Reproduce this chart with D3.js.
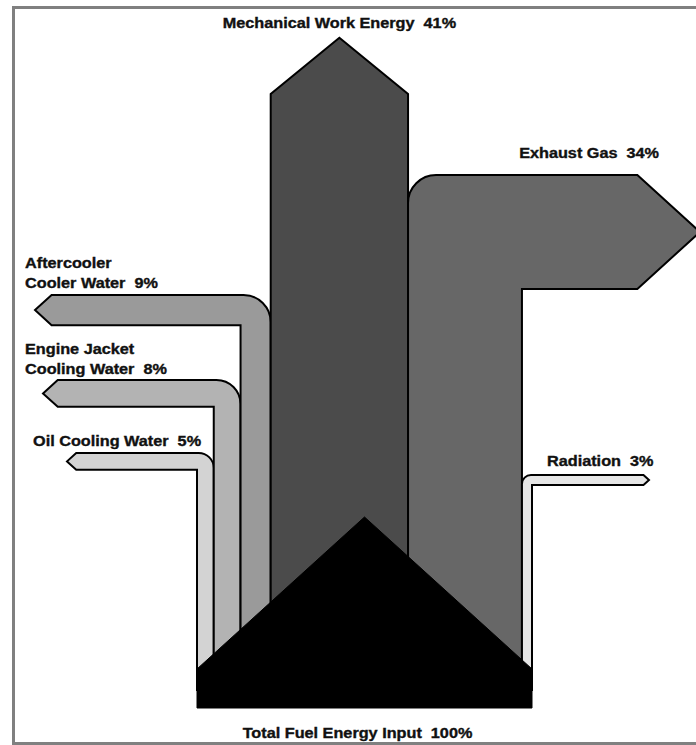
<!DOCTYPE html>
<html>
<head>
<meta charset="utf-8">
<script src="https://cdn.jsdelivr.net/npm/d3@7"></script>
<style>
  html, body { margin: 0; padding: 0; background: #fff; }
  svg { display: block; }
  text { font-family: "Liberation Sans", Arial, sans-serif; font-weight: bold; font-size: 14px; fill: #111; stroke: #111; stroke-width: 0.35; white-space: pre; }
</style>
</head>
<body>
<svg id="chart" width="696" height="745"></svg>
<script>
// ---- data ----
const categories = ["Oil Cooling Water", "Engine Jacket Cooling Water", "Aftercooler Cooler Water",
                    "Mechanical Work Energy", "Exhaust Gas", "Radiation"];
const values = [5, 8, 9, 41, 34, 3];
const labelLines = [["Oil Cooling Water"], ["Engine Jacket", "Cooling Water"], ["Aftercooler", "Cooler Water"],
                    ["Mechanical Work Energy"], ["Exhaust Gas"], ["Radiation"]];
const directions = ["left", "left", "left", "up", "right", "right"];
const totalLabel = "Total Fuel Energy Input";
const totalValue = 100;

// ---- presentation / layout ----
const colors = ["#d3d3d3", "#b3b3b3", "#9a9a9a", "#4b4b4b", "#676767", "#e6e6e6"];
const turnTop = [453, 380, 295, 94, 175, 475];     // top edge of the outgoing branch
const tipX = [67, 43, 35, null, 700, 649];         // x of arrow tip
const labelPos = [                                  // [x, baseline of last line, anchor]
  [33, 446, "start"], [25, 374, "start"], [25, 288, "start"],
  [null, 28, "middle"], [659, 158, "end"], [547, 466, "start"]
];
const lineGap = 20;
const stretch = 1.16;
const baseBottom = 708, baseShoulder = 669, apexY = 517, bandBottom = 690;

const svg = d3.select("#chart");

// frame
svg.append("rect")
  .attr("x", 13.5).attr("y", 7.5).attr("width", 700).attr("height", 736)
  .attr("fill", "#fff").attr("stroke", "#808080").attr("stroke-width", 3);

const x = d3.scaleLinear().domain([0, totalValue]).range([197, 532]);
const cum = [0, ...d3.cumsum(values)];

const flows = values.map((v, i) => ({
  name: categories[i], value: v, dir: directions[i],
  x0: x(cum[i]), x1: x(cum[i + 1]), w: x(v) - x(0),
  top: turnTop[i], tip: tipX[i], color: colors[i], lines: labelLines[i], lp: labelPos[i]
}));

function flowPath(f) {
  const p = d3.path();
  const w = f.w, h = w * 0.55, r = Math.min(w * 0.9, 28), yt = f.top;
  if (f.dir === "left") {
    p.moveTo(f.x0, bandBottom);
    p.lineTo(f.x0, yt + w);
    p.lineTo(f.tip + h, yt + w);
    p.lineTo(f.tip, yt + w / 2);
    p.lineTo(f.tip + h, yt);
    p.lineTo(f.x1 - r, yt);
    p.arcTo(f.x1, yt, f.x1, yt + r, r);
    p.lineTo(f.x1, bandBottom);
    p.closePath();
  } else if (f.dir === "right") {
    p.moveTo(f.x1, bandBottom);
    p.lineTo(f.x1, yt + w);
    p.lineTo(f.tip - h, yt + w);
    p.lineTo(f.tip, yt + w / 2);
    p.lineTo(f.tip - h, yt);
    p.lineTo(f.x0 + r, yt);
    p.arcTo(f.x0, yt, f.x0, yt + r, r);
    p.lineTo(f.x0, bandBottom);
    p.closePath();
  } else {
    const cx = (f.x0 + f.x1) / 2;
    p.moveTo(f.x0, bandBottom);
    p.lineTo(f.x0, yt);
    p.lineTo(cx, yt - (w / 2) * 0.82);
    p.lineTo(f.x1, yt);
    p.lineTo(f.x1, bandBottom);
    p.closePath();
  }
  return p.toString();
}

svg.append("g").selectAll("path").data(flows).join("path")
  .attr("d", flowPath)
  .attr("fill", d => d.color)
  .attr("stroke", "#000")
  .attr("stroke-width", 2)
  .attr("stroke-linejoin", "miter");

// total input block
const bx0 = x(0), bx1 = x(totalValue), bcx = (bx0 + bx1) / 2;
svg.append("path")
  .attr("d", d3.line()([[bx0, baseBottom], [bx0, baseShoulder], [bcx, apexY], [bx1, baseShoulder], [bx1, baseBottom]]) + "Z")
  .attr("fill", "#000")
  .attr("stroke", "#000")
  .attr("stroke-width", 1);

// labels
const labG = svg.append("g");
flows.forEach(f => {
  const lx = f.lp[0] === null ? (f.x0 + f.x1) / 2 : f.lp[0];
  f.lines.forEach((ln, j) => {
    const isLast = j === f.lines.length - 1;
    const yy = f.lp[1] - (f.lines.length - 1 - j) * lineGap;
    labG.append("text")
      .attr("transform", `translate(${lx},${yy}) scale(${stretch},1)`)
      .attr("text-anchor", f.lp[2])
      .text(isLast ? `${ln}  ${f.value}%` : ln);
  });
});
labG.append("text")
  .attr("transform", `translate(${bcx - 7},738) scale(${stretch},1)`)
  .attr("text-anchor", "middle")
  .text(`${totalLabel}  ${totalValue}%`);
</script>
</body>
</html>
